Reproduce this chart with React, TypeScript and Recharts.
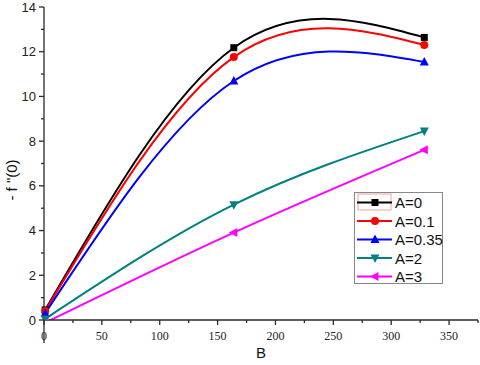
import React from 'react';
import { LineChart, Line, XAxis, YAxis, Legend } from 'recharts';

// B values and -f''(0) readings for each A
const bValues = [1, 164, 328.6];
const a0 = [0.45, 12.18, 12.64];
const a01 = [0.4, 11.76, 12.3];
const a035 = [0.3, 10.69, 11.54];
const a2 = [0.05, 5.16, 8.45];
const a3 = [-0.12, 3.91, 7.61];

const xTicks = [0, 25, 50, 75, 100, 125, 150, 175, 200, 225, 250, 275, 300, 325, 350, 375];
const yTicks = [0, 1, 2, 3, 4, 5, 6, 7, 8, 9, 10, 11, 12, 13, 14];

const series = [
    { key: 'a0', name: 'A=0', color: '#000000', shape: 'square', values: a0 },
    { key: 'a01', name: 'A=0.1', color: '#ff0000', shape: 'circle', values: a01 },
    { key: 'a035', name: 'A=0.35', color: '#0000ff', shape: 'up', values: a035 },
    { key: 'a2', name: 'A=2', color: '#008080', shape: 'down', values: a2 },
    { key: 'a3', name: 'A=3', color: '#ff00ff', shape: 'left', values: a3 },
];

const data = bValues.map((b, i) => {
    const row: Record<string, number> = { b };
    series.forEach((s) => { row[s.key] = s.values[i]; });
    return row;
});

const AXIS = '#2a2a2a';

function Marker({ shape, cx, cy, color }: { shape: string; cx: number; cy: number; color: string }) {
    if (cx == null || cy == null) return null;
    switch (shape) {
        case 'square':
            return <rect x={cx - 3.5} y={cy - 3.5} width={7} height={7} fill={color} />;
        case 'circle':
            return <circle cx={cx} cy={cy} r={4} fill={color} />;
        case 'up':
            return <polygon points={`${cx},${cy - 5} ${cx - 4.5},${cy + 3.5} ${cx + 4.5},${cy + 3.5}`} fill={color} />;
        case 'down':
            return <polygon points={`${cx},${cy + 5} ${cx - 4.5},${cy - 3.5} ${cx + 4.5},${cy - 3.5}`} fill={color} />;
        default:
            return <polygon points={`${cx - 5},${cy} ${cx + 3.5},${cy - 4.5} ${cx + 3.5},${cy + 4.5}`} fill={color} />;
    }
}

function XTick(props: any) {
    const { x, y, payload } = props;
    const v = payload.value;
    const major = v % 50 === 0 && v <= 350;
    return (
        <g>
            <line x1={x} x2={x} y1={y} y2={y + (major ? 5 : 3)} stroke={AXIS} strokeWidth={1.3} />
            {v === 0 && <line x1={x} x2={x} y1={y} y2={y + 23} stroke={AXIS} strokeWidth={1.3} />}
            {major && (
                <text x={x} y={y + 20} textAnchor="middle" fontFamily="'Liberation Serif', serif" fontSize={12} fill="#222">
                    {v}
                </text>
            )}
        </g>
    );
}

function YTick(props: any) {
    const { x, y, payload } = props;
    const v = payload.value;
    const major = v % 2 === 0;
    return (
        <g>
            <line x1={x} x2={x - (major ? 5 : 3)} y1={y} y2={y} stroke={AXIS} strokeWidth={1.3} />
            {major && (
                <text x={x - 8} y={y + 4.5} textAnchor="end" fontFamily="'Liberation Sans', Arial, sans-serif" fontSize={13} fill="#222">
                    {v}
                </text>
            )}
        </g>
    );
}

function LegendBox() {
    return (
        <div style={{ width: 89, height: 92, border: '1px solid #888', background: '#fff', boxSizing: 'border-box', position: 'relative' }}>
            <svg width={89} height={92} style={{ position: 'absolute', left: 0, top: 0 }}>
                <rect x={3} y={1} width={33} height={16} fill="none" stroke="#f4a0a0" strokeWidth={1} />
                {series.map((s, i) => {
                    const cy = 9.5 + i * 18.5;
                    return (
                        <g key={s.key}>
                            <line x1={2} x2={37} y1={cy} y2={cy} stroke={s.color} strokeWidth={2} />
                            <Marker shape={s.shape} cx={20} cy={cy} color={s.color} />
                            <text x={40} y={cy + 5.5} fontFamily="'Liberation Sans', Arial, sans-serif" fontSize={15} fill="#111">
                                {s.name}
                            </text>
                        </g>
                    );
                })}
            </svg>
        </div>
    );
}

export default function App() {
    return (
        <div style={{ position: 'absolute', left: 0, top: 0, width: 480, height: 365, background: '#fff' }}>
            <LineChart width={480} height={365} data={data} margin={{ top: 7, right: 2, bottom: 0, left: 0 }}>
                <XAxis
                    dataKey="b"
                    type="number"
                    domain={[0, 375]}
                    ticks={xTicks}
                    interval={0}
                    height={45}
                    stroke={AXIS}
                    strokeWidth={1.3}
                    tickLine={false}
                    tickSize={0}
                    tickMargin={0}
                    tick={<XTick />}
                    label={(p: any) => {
                        const vb = p.viewBox;
                        return (
                            <text x={vb.x + vb.width / 2} y={358} textAnchor="middle" fontFamily="'Liberation Sans', Arial, sans-serif" fontSize={15} fill="#111">
                                B
                            </text>
                        );
                    }}
                />
                <YAxis
                    type="number"
                    domain={[0, 14]}
                    allowDataOverflow
                    ticks={yTicks}
                    interval={0}
                    width={44}
                    stroke={AXIS}
                    strokeWidth={1.3}
                    tickLine={false}
                    tickSize={0}
                    tickMargin={0}
                    tick={<YTick />}
                    label={() => (
                        <text x={0} y={0} transform="translate(17,180) rotate(-90)" textAnchor="middle" fontFamily="'Liberation Sans', Arial, sans-serif" fontSize={15} fill="#111">
                            - f "(0)
                        </text>
                    )}
                />
                <Legend
                    layout="vertical"
                    align="center"
                    verticalAlign="middle"
                    content={() => <LegendBox />}
                    wrapperStyle={{ position: 'absolute', left: 354, top: 192, width: 89, height: 92 }}
                />
                {series.map((s) => (
                    <Line
                        key={s.key}
                        dataKey={s.key}
                        name={s.name}
                        type="natural"
                        stroke={s.color}
                        strokeWidth={2}
                        isAnimationActive={false}
                        activeDot={false}
                        dot={(p: any) => <Marker key={`${s.key}-${p.index}`} shape={s.shape} cx={p.cx} cy={p.cy} color={s.color} />}
                    />
                ))}
            </LineChart>
        </div>
    );
}
